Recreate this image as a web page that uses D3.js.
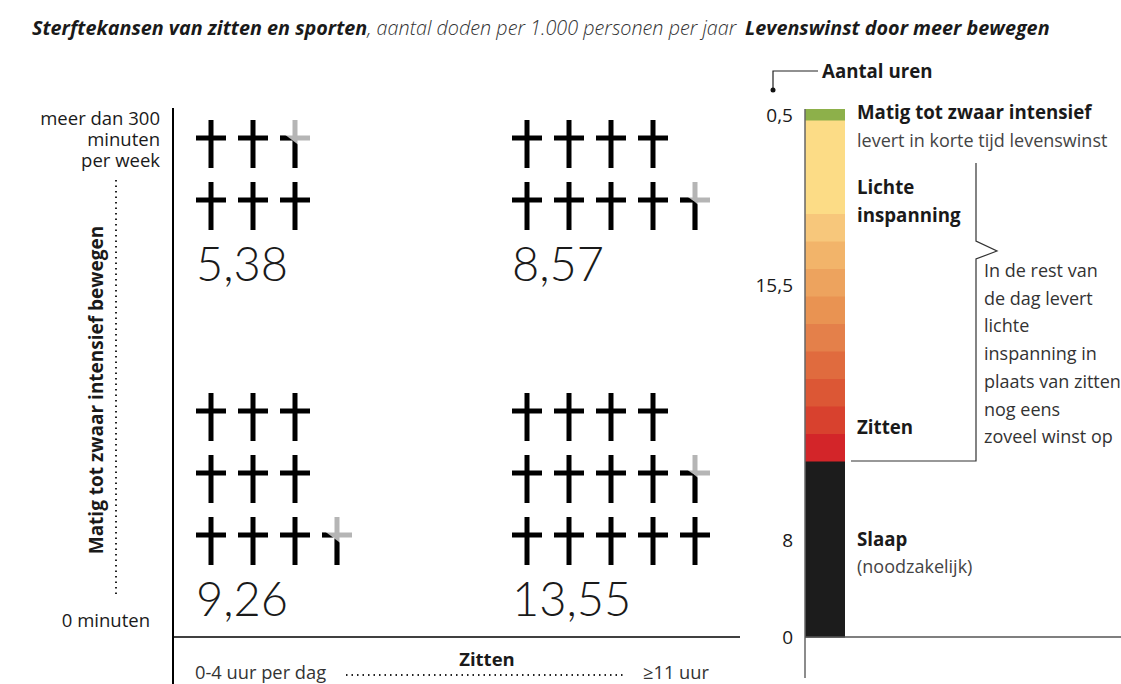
<!DOCTYPE html>
<html>
<head>
<meta charset="utf-8">
<script src="https://cdn.jsdelivr.net/npm/d3@7"></script>
<style>
  body { margin: 0; background: #fff; }
  text { font-family: "Open Sans", Lato, sans-serif; fill: #1a1a1a; }
</style>
</head>
<body>
<div id="chart"></div>
<script>
// Data
var sitting   = ['0-4 uur per dag', '≥11 uur'];
var movement  = ['meer dan 300 minuten per week', '0 minuten'];
var deaths    = [5.38, 8.57, 9.26, 13.55];            // per cell: row-major (movement, sitting)
var rowCounts = [[3, 3], [4, 5], [3, 3, 4], [4, 5, 5]]; // crosses per row
var partialAt = [2, 8, 9, 8];                          // slot holding the partial cross

var segments   = ['Slaap', 'Zitten 1', 'Zitten 2', 'Zitten 3', 'Zitten 4', 'Zitten 5',
                  'Zitten 6', 'Zitten 7', 'Zitten 8', 'Zitten 9', 'Lichte inspanning', 'Matig tot zwaar intensief'];
var segHours   = [8, 1.25, 1.25, 1.25, 1.25, 1.25, 1.25, 1.25, 1.25, 1.25, 4.25, 0.5];
var hourTicks  = [{label: '0', at: 0}, {label: '8', at: 4.4}, {label: '15,5', at: 16}, {label: '0,5', at: 23.75}];

var segColors = ['#1c1c1c', '#d32529', '#d8412e', '#dc5735', '#e06b3e', '#e4804a',
                 '#e99352', '#eda35e', '#f2b46a', '#f7c77b', '#fcdc86', '#8db04a'];

var width = 1121, height = 684;

var svg = d3.select('#chart')
    .append('svg')
    .attr('width', width)
    .attr('height', height);

// Titles
var t1 = svg.append('text').attr('x', 32).attr('y', 35).style('font-size', '19.8px').style('font-style', 'italic');
t1.append('tspan').style('font-weight', 'bold').text('Sterftekansen van zitten en sporten');
t1.append('tspan').style('font-weight', 300).style('fill', '#333').text(', aantal doden per 1.000 personen per jaar');
svg.append('text').attr('x', 745).attr('y', 35)
    .style('font-size', '19.8px').style('font-style', 'italic').style('font-weight', 'bold')
    .text('Levenswinst door meer bewegen');

// ---- Left chart: crosses grid
var x_scale = d3.scaleBand().domain(sitting).range([180, 812]);
var y_scale = d3.scaleBand().domain(movement).range([104, 650]);

var crossW = 30, crossH = 48, armY = 18, stepX = 42, stepY = 62;

function crossPath(g, color) {
    g.append('line').attr('x1', crossW / 2).attr('x2', crossW / 2).attr('y1', 0).attr('y2', crossH)
        .attr('stroke', color).attr('stroke-width', 5);
    g.append('line').attr('x1', 0).attr('x2', crossW).attr('y1', armY).attr('y2', armY)
        .attr('stroke', color).attr('stroke-width', 5);
}

var defs = svg.append('defs');

deaths.forEach(function(v, i) {
    var col = sitting[i % 2], row = movement[Math.floor(i / 2)];
    var cell = svg.append('g')
        .attr('transform', 'translate(' + (x_scale(col) + 16) + ',' + (y_scale(row) + 16) + ')');
    var full = Math.floor(v), frac = v - full;
    var slot = 0, nFull = 0;
    rowCounts[i].forEach(function(n, r) {
        for (var k = 0; k < n; k++) {
            var g = cell.append('g').attr('transform', 'translate(' + (k * stepX) + ',' + (r * stepY) + ')');
            if (slot === partialAt[i]) {
                crossPath(g, '#b5b5b5');
                var id = 'clip' + i;
                var off = (0.5 - frac) * 10 - 2;
                defs.append('clipPath').attr('id', id).append('polygon')
                    .attr('points', [[-5, 8 + off], [crossW + 5, 38 + off], [crossW + 5, crossH + 5], [-5, crossH + 5]].join(' '));
                crossPath(g.append('g').attr('clip-path', 'url(#' + id + ')'), '#000');
            } else if (nFull < full) {
                crossPath(g, '#000');
                nFull++;
            }
            slot++;
        }
    });
    var nRows = rowCounts[i].length;
    cell.append('text')
        .attr('x', 0)
        .attr('y', (nRows - 1) * stepY + 99)
        .style('font-family', 'Lato, sans-serif')
        .style('font-size', '47px').style('font-weight', 300)
        .text(d3.format('.2f')(v).replace('.', ','));
});

// axes lines
svg.append('line').attr('x1', 173).attr('x2', 173).attr('y1', 108).attr('y2', 684)
    .attr('stroke', '#000').attr('stroke-width', 2);
svg.append('line').attr('x1', 173).attr('x2', 740).attr('y1', 637).attr('y2', 637)
    .attr('stroke', '#000').attr('stroke-width', 1.5);

// y labels
var yl = svg.append('text').attr('text-anchor', 'end').style('font-size', '18.5px');
['meer dan 300', 'minuten', 'per week'].forEach(function(s, i) {
    yl.append('tspan').attr('x', 160).attr('y', 125 + i * 21).text(s);
});
svg.append('text').attr('x', 150).attr('y', 627).attr('text-anchor', 'end')
    .style('font-size', '18.5px').text(movement[1]);
svg.append('line').attr('x1', 116).attr('x2', 116).attr('y1', 180).attr('y2', 594)
    .attr('stroke', '#222').attr('stroke-width', 2).attr('stroke-dasharray', '1.5,4');
svg.append('text').attr('transform', 'translate(103,390) rotate(-90)').attr('text-anchor', 'middle')
    .style('font-size', '19px').style('font-weight', 'bold')
    .text('Matig tot zwaar intensief bewegen');

// x labels
svg.append('text').attr('x', 487).attr('y', 666).attr('text-anchor', 'middle')
    .style('font-size', '18.5px').style('font-weight', 'bold').text('Zitten');
svg.append('text').attr('x', 195).attr('y', 679).style('font-size', '18.3px').style('fill', '#333').text(sitting[0]);
svg.append('text').attr('x', 643).attr('y', 679).style('font-size', '18.3px').style('fill', '#333').text(sitting[1]);
svg.append('line').attr('x1', 346).attr('x2', 626).attr('y1', 675).attr('y2', 675)
    .attr('stroke', '#222').attr('stroke-width', 2).attr('stroke-dasharray', '1.5,4');

// ---- Right chart: stacked hours bar
var h_scale = d3.scaleLinear().domain([0, d3.sum(segHours)]).range([637, 109]);
var stacked = [];
var acc = 0;
segHours.forEach(function(h, i) {
    stacked.push({name: segments[i], y0: acc, y1: acc + h, color: segColors[i]});
    acc += h;
});

svg.append('g').selectAll('rect')
    .data(stacked)
    .enter()
    .append('rect')
    .attr('x', 805)
    .attr('width', 40)
    .attr('y', function(d) { return h_scale(d.y1); })
    .attr('height', function(d) { return h_scale(d.y0) - h_scale(d.y1) + 0.5; })
    .style('fill', function(d) { return d.color; });

svg.append('line').attr('x1', 805).attr('x2', 805).attr('y1', h_scale(24)).attr('y2', 678)
    .attr('stroke', '#666').attr('stroke-width', 1.5);
svg.append('line').attr('x1', 805).attr('x2', 1121).attr('y1', 637).attr('y2', 637)
    .attr('stroke', '#555').attr('stroke-width', 1.5);

svg.append('g').selectAll('text')
    .data(hourTicks)
    .enter()
    .append('text')
    .attr('x', 793)
    .attr('y', function(d) { return h_scale(d.at) + 7; })
    .attr('text-anchor', 'end')
    .style('font-size', '19px')
    .text(function(d) { return d.label; });

// "Aantal uren" leader
svg.append('path').attr('d', 'M818,71 H773 V88').attr('fill', 'none').attr('stroke', '#222').attr('stroke-width', 1.2);
svg.append('circle').attr('cx', 773).attr('cy', 90).attr('r', 2.5).style('fill', '#111');
svg.append('text').attr('x', 822).attr('y', 78).style('font-size', '18.7px').style('font-weight', 'bold').text('Aantal uren');

// bar labels
function label(x, y, txt, bold, color) {
    svg.append('text').attr('x', x).attr('y', y).style('font-size', bold ? '18.7px' : '18px')
        .style('font-weight', bold ? 'bold' : 'normal').style('fill', color || '#1a1a1a').text(txt);
}
label(857, 119, 'Matig tot zwaar intensief', true);
label(857, 147, 'levert in korte tijd levenswinst', false, '#444');
label(857, 194, 'Lichte', true);
label(857, 222, 'inspanning', true);
label(857, 434, 'Zitten', true);
label(857, 546, 'Slaap', true);
label(857, 573, '(noodzakelijk)', false, '#444');

// bracket
svg.append('path').attr('d', 'M976,163 V241 L997,251 L976,259 V461 H851')
    .attr('fill', 'none').attr('stroke', '#333').attr('stroke-width', 1.2);
['In de rest van', 'de dag levert', 'lichte', 'inspanning in', 'plaats van zitten', 'nog eens', 'zoveel winst op']
    .forEach(function(s, i) { label(984, 277 + i * 27.7, s, false, '#333'); });
</script>
</body>
</html>
